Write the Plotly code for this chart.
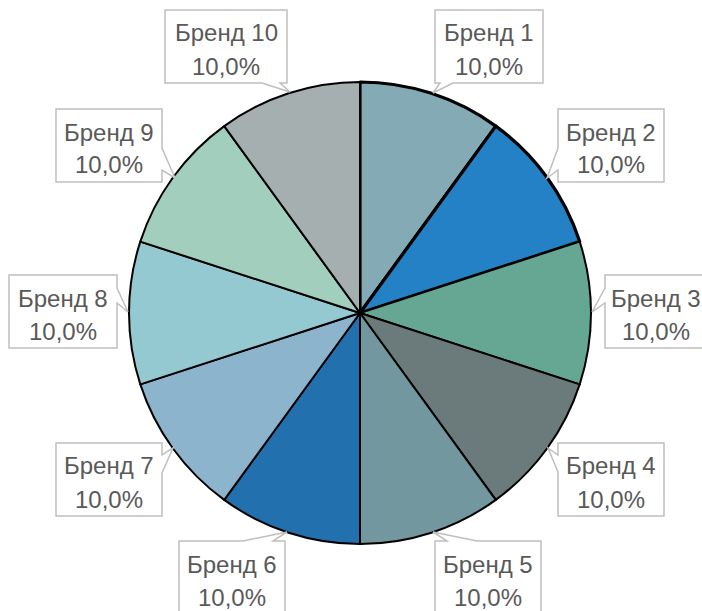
import plotly.graph_objects as go

W, H = 702, 611

brands = ["Бренд 1", "Бренд 2", "Бренд 3", "Бренд 4", "Бренд 5",
          "Бренд 6", "Бренд 7", "Бренд 8", "Бренд 9", "Бренд 10"]
values = [10, 10, 10, 10, 10, 10, 10, 10, 10, 10]
colors = ["#84ABB5", "#2581C6", "#65A792", "#6B7B7C", "#72979E",
          "#2270AE", "#8DB4CD", "#95C9D1", "#A2CEBD", "#A6AFB0"]
line_widths = [3.2, 3.2, 2, 2, 2, 2, 2, 2, 2, 2]

# callout boxes (pixel layout): box, notch side, notch span, pointer tip
callouts = [
    ((435, 10, 543, 83), "bottom", (440, 453), (433, 93)),
    ((558, 109, 664, 182), "left", (148, 170), (547, 178)),
    ((605, 275, 713, 348), "left", (288, 303), (592, 312)),
    ((558, 443, 664, 516), "left", (455, 472), (548, 448)),
    ((435, 541, 541, 614), "top", (447, 477), (433, 532)),
    ((179, 541, 285, 614), "top", (243, 273), (287, 532)),
    ((56, 443, 162, 516), "right", (455, 473), (173, 448)),
    ((9, 275, 117, 348), "right", (288, 303), (128, 312)),
    ((56, 109, 162, 182), "right", (148, 170), (175, 178)),
    ((165, 10, 287, 83), "bottom", (262, 280), (290, 92)),
]
# text centre offsets (x) inside each box, to keep the cut-off label in view
text_dx = [0, 0, -3, 0, 0, 0, 0, 0, 0, 0]

cx, cy, r = 360, 313, 231


def px(x):
    return x / W


def py(y):
    return 1 - y / H


fig = go.Figure(go.Pie(
    labels=brands,
    values=values,
    sort=False,
    direction="clockwise",
    rotation=0,
    textinfo="none",
    marker=dict(colors=colors, line=dict(color="#000000", width=line_widths)),
    domain=dict(x=[px(cx - r), px(cx + r)], y=[py(cy + r), py(cy - r)]),
    showlegend=False,
    hoverinfo="label+percent",
))

total = sum(values)
shapes = []
annotations = []
for (box, side, span, tip), name, v, dx in zip(callouts, brands, values, text_dx):
    x0, y0, x1, y1 = box
    a, b = span
    tx, ty = tip
    if side == "bottom":
        pts = [(x0, y0), (x1, y0), (x1, y1), (b, y1), (tx, ty), (a, y1), (x0, y1)]
    elif side == "top":
        pts = [(x0, y0), (a, y0), (tx, ty), (b, y0), (x1, y0), (x1, y1), (x0, y1)]
    elif side == "left":
        pts = [(x0, y0), (x1, y0), (x1, y1), (x0, y1), (x0, b), (tx, ty), (x0, a)]
    else:  # right
        pts = [(x0, y0), (x1, y0), (x1, a), (tx, ty), (x1, b), (x1, y1), (x0, y1)]
    path = "M " + " L ".join(f"{px(x):.5f},{py(y):.5f}" for x, y in pts) + " Z"
    shapes.append(dict(type="path", xref="paper", yref="paper", path=path,
                       fillcolor="white", line=dict(color="#BFBFBF", width=1.5),
                       layer="above"))
    mx = (x0 + x1) / 2 + dx
    pct = f"{v / total * 100:.1f}%".replace(".", ",")
    for text, yy in ((name, y0 + 23), (pct, y0 + 56)):
        annotations.append(dict(x=px(mx), y=py(yy), xref="paper", yref="paper",
                                text=text, showarrow=False, xanchor="center",
                                yanchor="middle",
                                font=dict(family="Liberation Sans, Arial, sans-serif",
                                          size=24, color="#595959")))

fig.update_layout(
    width=W, height=H,
    margin=dict(l=0, r=0, t=0, b=0),
    paper_bgcolor="white",
    plot_bgcolor="white",
    shapes=shapes,
    annotations=annotations,
)

fig.write_html("out.html", config={"displayModeBar": False},
               post_script="document.body.style.margin='0';document.body.style.padding='0';")
